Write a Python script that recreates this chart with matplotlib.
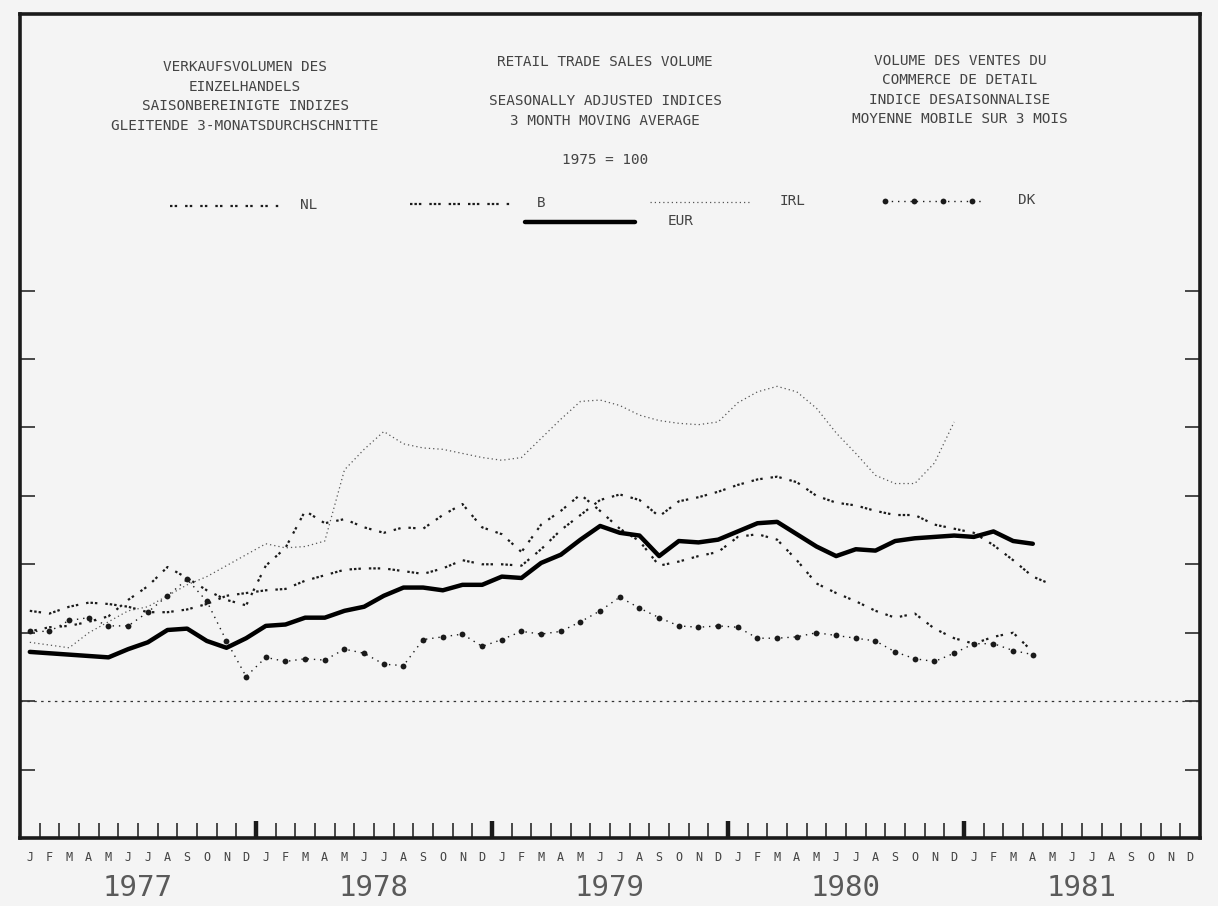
import numpy as np
import matplotlib
matplotlib.use('Agg')
import matplotlib.pyplot as plt
import matplotlib.transforms as mtransforms
from matplotlib.lines import Line2D

# ---- Data (monthly indices, 1975 = 100) ----

month_letters = list('JFMAMJJASOND')
years = ['1977', '1978', '1979', '1980', '1981']

eur = [103.6, 103.5, 103.4, 103.3, 103.2, 103.8, 104.3, 105.2, 105.3, 104.4, 103.9, 104.6,
       105.5, 105.6, 106.1, 106.1, 106.6, 106.9, 107.7, 108.3, 108.3, 108.1, 108.5, 108.5,
       109.1, 109.0, 110.1, 110.7, 111.8, 112.8, 112.3, 112.1, 110.6, 111.7, 111.6, 111.8,
       112.4, 113.0, 113.1, 112.2, 111.3, 110.6, 111.1, 111.0, 111.7, 111.9, 112.0, 112.1,
       112.0, 112.4, 111.7, 111.5]

nl = [105.1, 105.4, 105.5, 105.8, 106.2, 107.4, 108.4, 109.8, 109.0, 108.1, 107.4, 107.0,
      109.9, 111.2, 113.9, 113.0, 113.3, 112.7, 112.3, 112.7, 112.6, 113.6, 114.4, 112.7,
      112.2, 110.9, 112.9, 113.9, 115.1, 113.9, 112.6, 111.7, 109.9, 110.2, 110.6, 110.9,
      112.0, 112.2, 111.8, 110.3, 108.6, 107.9, 107.3, 106.6, 106.1, 106.4, 105.3, 104.6,
      104.2, 104.7, 105.0, 103.6]

b = [106.6, 106.4, 106.9, 107.2, 107.1, 106.9, 106.5, 106.5, 106.7, 107.1, 107.7, 107.9,
     108.1, 108.2, 108.8, 109.2, 109.6, 109.7, 109.7, 109.5, 109.3, 109.7, 110.3, 110.0,
     110.0, 109.9, 111.1, 112.5, 113.6, 114.7, 115.1, 114.7, 113.5, 114.6, 114.9, 115.3,
     115.8, 116.2, 116.4, 116.0, 115.0, 114.5, 114.3, 113.9, 113.6, 113.6, 112.9, 112.6,
     112.3, 111.4, 110.3, 109.1, 108.5]

irl = [104.3, 104.1, 103.9, 105.0, 105.8, 106.6, 106.9, 107.7, 108.5, 109.1, 109.9, 110.7,
       111.5, 111.2, 111.3, 111.7, 116.9, 118.4, 119.7, 118.8, 118.5, 118.4, 118.1, 117.8,
       117.6, 117.8, 119.2, 120.6, 121.9, 122.0, 121.6, 120.9, 120.5, 120.3, 120.2, 120.4,
       121.8, 122.6, 123.0, 122.6, 121.4, 119.6, 118.1, 116.5, 115.9, 115.9, 117.4, 120.4]

dk = [105.1, 105.1, 105.9, 106.1, 105.5, 105.5, 106.5, 107.7, 108.9, 107.3, 104.4, 101.8,
      103.2, 102.9, 103.1, 103.0, 103.8, 103.5, 102.7, 102.6, 104.5, 104.7, 104.9, 104.0,
      104.5, 105.1, 104.9, 105.1, 105.8, 106.6, 107.6, 106.8, 106.1, 105.5, 105.4, 105.5,
      105.4, 104.6, 104.6, 104.7, 105.0, 104.8, 104.6, 104.4, 103.6, 103.1, 102.9, 103.5,
      104.2, 104.2, 103.7, 103.4]

base_value = 100.0

title_de = ['VERKAUFSVOLUMEN DES', 'EINZELHANDELS',
            'SAISONBEREINIGTE INDIZES', 'GLEITENDE 3-MONATSDURCHSCHNITTE']
title_en = ['RETAIL TRADE SALES VOLUME', '', 'SEASONALLY ADJUSTED INDICES',
            '3 MONTH MOVING AVERAGE', '', '1975 = 100']
title_fr = ['VOLUME DES VENTES DU', 'COMMERCE DE DETAIL',
            'INDICE DESAISONNALISE', 'MOYENNE MOBILE SUR 3 MOIS']

# ---- Styles ----

plt.rcParams['font.family'] = ['DejaVu Sans Mono', 'DejaVu Sans']
bg = '#f4f4f4'
ink = '#1a1a1a'
txt = '#444444'

styles = {
    'NL':  dict(color=ink, lw=1.6, dashes=(1.1, 1.0, 1.1, 3.6)),
    'B':   dict(color=ink, lw=1.6, dashes=(1.1, 0.9, 1.1, 0.9, 1.1, 3.6)),
    'IRL': dict(color='#555555', lw=0.9, dashes=(1.0, 2.4)),
    'DK':  dict(color=ink, lw=1.0, dashes=(1.0, 3.5), marker='o', ms=4.2,
                markeredgewidth=0),
    'EUR': dict(color='black', lw=3.2, solid_capstyle='round', solid_joinstyle='round'),
}

fig = plt.figure(figsize=(12.18, 9.06), dpi=100, facecolor=bg)
ax = fig.add_axes([0.0164, 0.075, 0.9688, 0.9095], facecolor=bg)

series = [('NL', nl), ('B', b), ('IRL', irl), ('DK', dk), ('EUR', eur)]
for name, vals in series:
    x = np.arange(len(vals)) + 0.5
    ax.plot(x, vals, **styles[name], zorder=3)

# reference line 1975 = 100
ax.axhline(base_value, color='#333333', lw=0.9, dashes=(2.0, 3.5), zorder=2)

nmonths = 12 * len(years)
ax.set_xlim(0, nmonths)
ax.set_ylim(90, 150.2)

# ---- Ticks ----
ax.set_xticks(np.arange(12, nmonths, 12))
ax.set_xticks(np.arange(0, nmonths + 1, 1), minor=True)
ax.tick_params(axis='x', which='major', direction='in', length=12, width=3.2,
               color=ink, labelbottom=False)
ax.tick_params(axis='x', which='minor', direction='in', length=11, width=1.1,
               color=ink)
ax.set_yticks(np.arange(95, 131, 5))
ax.tick_params(axis='y', which='major', direction='in', length=11, width=1.1,
               color=ink, left=True, right=True, labelleft=False)

for sp in ax.spines.values():
    sp.set_linewidth(2.6)
    sp.set_color(ink)

# month letters and year labels under the axis
trans = mtransforms.blended_transform_factory(ax.transData, ax.transAxes)
for yy, year in enumerate(years):
    for mm, letter in enumerate(month_letters):
        ax.text(yy * 12 + mm + 0.5, -0.024, letter, transform=trans,
                ha='center', va='center', fontsize=8.5, color=txt)
    ax.text(yy * 12 + 6, -0.061, year, transform=trans, ha='center', va='center',
            fontsize=21, color='#5a5a5a')

# ---- Trilingual header ----
def text_block(x, y_top, lines, step):
    for k, line in enumerate(lines):
        if line:
            fig.text(x, 1 - (y_top + k * step) / 906, line, ha='center', va='center',
                     fontsize=10.4, color=txt)

text_block(245 / 1218, 67, title_de, 19.7)
text_block(605 / 1218, 62, title_en, 19.6)
text_block(960 / 1218, 61, title_fr, 19.4)

# ---- Legend ----
def legend_item(x0, x1, y, label, lx, style):
    st = dict(style)
    st.pop('marker', None)
    st.pop('ms', None)
    st.pop('markeredgewidth', None)
    fig.add_artist(Line2D([x0 / 1218, x1 / 1218], [1 - y / 906, 1 - y / 906],
                          transform=fig.transFigure, **st))
    if style.get('marker'):
        xs = np.linspace(x0, x1 - 10, 4) / 1218
        fig.add_artist(Line2D(xs, [1 - y / 906] * len(xs), transform=fig.transFigure,
                              ls='none', marker='o', ms=4.2, color=ink,
                              markeredgewidth=0))
    fig.text(lx / 1218, 1 - (y - 1) / 906, label, ha='left', va='center',
             fontsize=10.4, color=txt)

legend_item(170, 280, 206, 'NL', 300, styles['NL'])
legend_item(410, 510, 204, 'B', 537, styles['B'])
legend_item(650, 752, 202, 'IRL', 780, styles['IRL'])
legend_item(885, 982, 201, 'DK', 1018, styles['DK'])
legend_item(525, 635, 222, 'EUR', 668, styles['EUR'])

fig.savefig('out.png', dpi=100, facecolor=bg)
